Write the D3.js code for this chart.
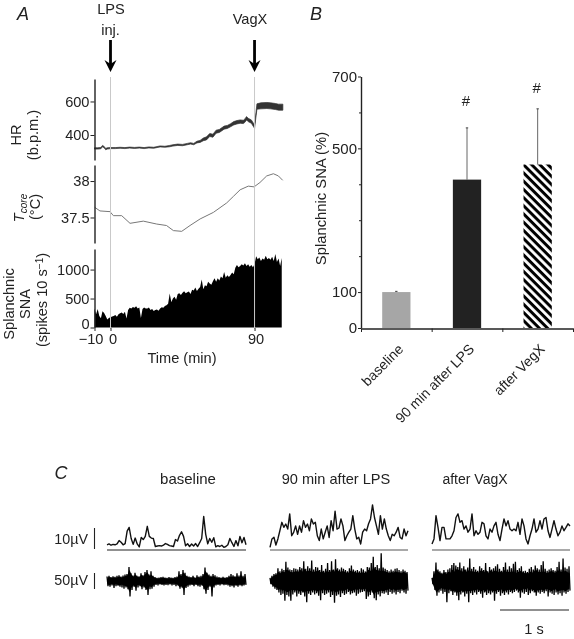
<!DOCTYPE html>
<html><head><meta charset="utf-8">
<script src="https://cdn.jsdelivr.net/npm/d3@7"></script>
<style>
html,body{margin:0;padding:0;background:#fff}
svg{display:block;filter:blur(0.4px)}
text{font-family:"Liberation Sans",Arial,sans-serif;fill:#222}
</style></head><body><svg id="c" width="574" height="639"></svg>
<script>
// Panel A: heart rate (time in min, b.p.m., band half-width)
const hrTime=[-10,-8,-6,-5,-4,-3,-2,0,3,6,9,12,15,18,21,24,27,31,34,37,39,42,45,48,50,52,54,56,58,60,62,64,66,68,71,73,75,77,79,81,83,84,85,86,88,90,90.4,91,91.5,94,97.7,100,103,105,107.7];
const hrValue=[320,320,322,334,328,316,320,322,322,324,322,325,323,325,322,326,324,332,330,334,338,342,340,346,350,346,358,362,374,380,400,396,420,424,444,448,458,470,476,480,478,486,500,490,480,450,480,530,570,574,576,574,570,566,566];
const hrSpread=[4,4,4,4,4,4,4,3,3,3,3,3,3,3,3,3,3,3,3,4,4,4,4,4,4,4,5,6,8,9,9,9,9,9,9,9,9,10,10,10,10,10,10,10,10,10,10,14,16,18,18,18,18,18,18];
// Panel A: core temperature
const tempTime=[-9.9,-6.6,-0.3,1.8,7,12.2,20.5,28.9,35,39.3,44.5,49.7,56,64.3,72.6,76.8,81,86.1,89.7,93.4,97.6,101.8,104.9,107.6];
const tempValue=[37.64,37.59,37.58,37.525,37.525,37.42,37.45,37.41,37.39,37.32,37.31,37.39,37.48,37.57,37.70,37.79,37.88,37.93,37.92,37.98,38.07,38.10,38.07,38.01];
// Panel A: splanchnic SNA, one value per minute from -10
const snaStart=-10;
const snaValue=[330,230,320,200,160,280,250,200,140,165,175,190,200,215,185,230,245,260,235,270,155,300,340,330,356,340,365,330,345,165,320,345,330,330,345,300,320,285,300,310,290,330,350,340,370,385,410,586,440,500,530,480,580,590,560,600,625,590,610,620,580,650,640,690,630,670,700,828,660,730,710,790,760,740,800,850,790,850,810,880,850,960,860,900,870,905,950,920,1030,1080,1040,1060,1090,1070,1110,1060,1090,1050,1080,1040,1090,1230,1180,1210,1150,1190,1170,1240,1180,1200,1170,1220,1150,1270,1130,1190,1060,1200];
const hrTicks=[400,600], tempTicks=[37.5,38], snaTicks=[0,500,1000], timeTicks=[-10,0,90];
const eventTimes=[0,90];
// Panel B
const barCategories=["baseline","90 min after LPS","after VegX"];
const barMeans=[100,413,455];
const barTops=[102,557,610];
const barMarks=["","#","#"];
const barTickMajor=[0,100,500,700], barTickMinor=[200,300,400,600];
// Panel C
const traceTitles=["baseline","90 min after LPS","after VagX"];
const rectBaseline=[2,2.4,1.8,2.2,2,2.4,4,3.2,2,2.6,8.5,10.3,5,2.2,5.2,2.4,1,5.5,4.5,6,10.8,6,5.2,5,1.2,1.4,1.6,1.4,1.8,2.6,2.2,1.6,1.4,1.2,4.5,3.8,6.5,8.2,6,1.5,2.5,1.2,2.4,1.4,2.6,1.2,3,5,15.5,7,2.5,5,3.2,5.4,1,1.6,1.2,1.8,0.8,1.2,2,5,3,1.2,4,1.5,6,3,5.5,2];
const rectLPS=[0.8,4.8,5.6,1.9,4.8,8.7,12.7,10.3,11.9,9.5,16.7,6.3,7.9,11,7,11,8,13.5,10.3,11.9,8.7,14.3,11.9,12.7,6.3,4,9.5,4.8,8,11,5.5,13.5,8.7,18,9.5,10,14.3,11,4,6.3,8,9.5,15.9,9.5,4.8,5.6,2.4,8,9.5,8.7,12,14.3,21,15,11,7,15.9,9.5,14.3,9.5,6.3,4,7,6.3,8,10.3,5.5,4.8,9.5,6.3,8.7];
const rectVagX=[2.4,4.8,15.9,10.3,4,10.3,10.3,4.8,4.8,4.8,6.3,8.7,15,16.7,12.7,13.5,9.5,11,8,9.5,16.7,6.3,8.7,7,8,12.7,12,6.3,4.8,9.5,8,11,12.7,7,4,9.5,14.3,11,13.5,9.5,8.7,9.5,8.7,12.7,7,14.3,11,4.8,2.4,6.3,9.5,14.3,8,9.5,13.5,9.5,14.3,15,8.7,5.5,9.5,13.5,9.5,6.3,8,11,8.7,10.3,12,11];
const rawUpBaseline=[14,16,12,15,13,16,18,14,17,20,22,44,24,17,26,16,15,24,18,28,34,20,30,16,12,10,11,12,13,11,10,12,11,10,12,14,30,22,34,26,16,14,12,16,11,18,14,16,22,42,26,20,16,22,18,14,12,11,13,11,12,16,22,18,15,24,17,30,16,22];
const rawLowBaseline=[16,18,14,22,16,15,18,20,24,20,26,48,28,18,30,20,16,26,20,28,44,26,24,18,12,14,11,12,14,12,13,11,14,12,16,14,24,20,44,22,18,14,12,16,12,16,18,14,26,40,28,18,48,20,14,12,14,11,13,12,14,18,16,20,15,18,14,16,14,12];
const rawUpLPS=[10,16,22,24,40,30,38,34,60,42,36,34,40,38,36,44,40,62,38,46,40,64,36,44,42,34,50,32,38,56,34,62,36,68,40,36,42,38,34,30,40,48,36,32,34,30,40,36,30,44,42,56,76,44,50,40,87,42,38,34,30,36,32,38,40,34,30,36,32,28];
const rawLowLPS=[10,18,24,28,36,44,40,62,44,48,62,42,36,48,40,44,36,48,66,40,44,36,42,38,46,60,38,44,40,36,50,44,68,46,42,50,38,44,40,34,42,38,36,46,40,36,34,32,56,48,44,36,54,60,42,48,38,40,36,44,34,40,36,42,34,38,30,36,40,30];
const rawUpVagX=[10,30,58,36,30,26,34,28,36,40,50,56,48,44,58,40,46,36,42,70,38,44,36,32,46,40,34,56,30,44,36,40,46,52,38,32,44,58,36,46,40,54,60,34,40,46,30,32,28,38,44,36,48,40,36,50,62,38,32,36,40,34,32,44,60,36,70,42,38,46];
const rawLowVagX=[10,28,46,36,30,40,34,66,38,32,44,36,46,60,42,36,48,40,66,38,44,36,42,34,40,52,36,44,38,42,36,62,40,34,46,38,44,36,42,34,38,34,30,36,52,36,40,34,44,38,32,36,46,36,40,34,38,32,48,36,40,44,36,42,38,46,36,40,34,30];

const svg=d3.select("#c");
const ink="#222";
function label(x,y,s,o={}){
  const t=svg.append("text").attr("x",x).attr("y",y).attr("font-size",o.size||14.6)
   .attr("text-anchor",o.anchor||"middle").text(s);
  if(o.italic)t.attr("font-style","italic");
  if(o.rot!=null)t.attr("transform",`rotate(${o.rot} ${x} ${y})`);
  return t;
}
function styleAxis(g,size=14.6){
  g.selectAll("path.domain").attr("stroke",ink).attr("stroke-width",1.4);
  g.selectAll(".tick line").attr("stroke",ink).attr("stroke-width",1);
  g.selectAll("text").attr("font-size",size).attr("font-family",'"Liberation Sans",Arial,sans-serif').attr("fill",ink);
}
/* ---------- Panel A ---------- */
label(23,20,"A",{size:18,italic:true});
const tx=d3.scaleLinear().domain([-10,107.6]).range([94.5,282.7]);
const hrY=d3.scaleLinear().domain([251,734]).range([160,79]);
const tY=d3.scaleLinear().domain([37.15,38.22]).range([243,165]);
const sY=d3.scaleLinear().domain([0,1355]).range([327.5,249]);
const snaSeries=snaValue.map((v,i)=>[snaStart+i,v]);
svg.append("path").datum(snaSeries).attr("fill","#000")
  .attr("d",d3.area().x(d=>tx(d[0])).y0(sY(0)).y1(d=>sY(d[1])));
svg.append("path").datum(hrTime.map((t,i)=>[t,hrValue[i],hrSpread[i]])).attr("fill","#333").attr("stroke","#333").attr("stroke-width",.7)
  .attr("d",d3.area().x(d=>tx(d[0])).y0(d=>hrY(d[1]-d[2])).y1(d=>hrY(d[1]+d[2])));
svg.append("path").datum(tempTime.map((t,i)=>[t,tempValue[i]])).attr("fill","none").attr("stroke","#777").attr("stroke-width",1)
  .attr("d",d3.line().x(d=>tx(d[0])).y(d=>tY(d[1])));
svg.selectAll("line.ev").data(eventTimes).join("line").attr("class","ev")
  .attr("x1",tx).attr("x2",tx).attr("y1",77).attr("y2",329).attr("stroke","#c9c9c9").attr("stroke-width",1);
const axL=(sc,vals,fmt)=>svg.append("g").attr("transform","translate(94.5,0)")
  .call(d3.axisLeft(sc).tickValues(vals).tickFormat(fmt).tickSize(4).tickSizeOuter(0).tickPadding(1)).call(styleAxis);
axL(hrY,hrTicks,d3.format("d"));
axL(tY,tempTicks,d=>String(d));
const snaAxis=axL(sY,snaTicks,d3.format("d"));
snaAxis.selectAll(".tick").filter(d=>d===0).select("text").attr("y",-3.5);
const axX=svg.append("g").attr("transform","translate(0,328)")
  .call(d3.axisBottom(tx).tickValues(timeTicks).tickFormat(d=>d<0?"\u2212"+(-d):d).tickSize(3).tickSizeOuter(0).tickPadding(3));
styleAxis(axX); axX.select("path.domain").remove();
axX.selectAll(".tick text").attr("dx",d=>d<0?-4:(d===0?2:1));
label(182,363,"Time (min)");
label(111,14,"LPS");label(110.5,35,"inj.");label(250,24,"VagX");
eventTimes.forEach(t=>{
  const x=tx(t);
  svg.append("line").attr("x1",x).attr("x2",x).attr("y1",40).attr("y2",64).attr("stroke","#000").attr("stroke-width",2.8);
  svg.append("path").attr("d",d3.line()([[x-6,60],[x,72],[x+6,60],[x,64]])+"Z").attr("fill","#000");
});
label(21,135,"HR",{rot:-90});label(38,135,"(b.p.m.)",{rot:-90});
const tc=label(24,208,"",{rot:-90});
tc.append("tspan").attr("font-style","italic").text("T");
tc.append("tspan").attr("font-style","italic").attr("font-size",10).attr("dy",3).text("core");
label(40,207,"(°C)",{rot:-90});
label(14,304,"Splanchnic",{rot:-90});label(30,304,"SNA",{rot:-90});
const sp=label(47,300,"(spikes 10 s",{rot:-90});
sp.append("tspan").attr("font-size",10).attr("dy",-4).text("\u22121");
sp.append("tspan").attr("dy",4).text(")");
/* ---------- Panel B ---------- */
label(316,20,"B",{size:18,italic:true});
const defs=svg.append("defs");
const pat=defs.append("pattern").attr("id","hatch").attr("patternUnits","userSpaceOnUse")
  .attr("width",5.8).attr("height",5.8).attr("patternTransform","rotate(45)");
pat.append("rect").attr("width",5.8).attr("height",5.8).attr("fill","#fff");
pat.append("rect").attr("width",5.8).attr("height",3).attr("fill","#000");
const bx=d3.scaleBand().domain(barCategories).range([361,573]).paddingInner(0.6).paddingOuter(0.3);
const by=d3.scaleLinear().domain([0,700]).range([328,76.5]);
const fills=["#a6a6a6","#222222","url(#hatch)"];
const barCx=d=>bx(d)+bx.bandwidth()/2;
svg.selectAll("line.err").data(barCategories).join("line").attr("class","err")
  .attr("x1",barCx).attr("x2",barCx).attr("y1",(d,i)=>by(barMeans[i])).attr("y2",(d,i)=>by(barTops[i]))
  .attr("stroke","#666").attr("stroke-width",1);
svg.selectAll("line.cap").data(barCategories).join("line").attr("class","cap")
  .attr("x1",d=>barCx(d)-1.2).attr("x2",d=>barCx(d)+1.2).attr("y1",(d,i)=>by(barTops[i])).attr("y2",(d,i)=>by(barTops[i]))
  .attr("stroke","#444").attr("stroke-width",1);
svg.selectAll("rect.bar").data(barCategories).join("rect").attr("class","bar")
  .attr("x",d=>bx(d)).attr("width",bx.bandwidth()).attr("y",(d,i)=>by(barMeans[i]))
  .attr("height",(d,i)=>by(0)-by(barMeans[i])).attr("fill",(d,i)=>fills[i]);
barCategories.forEach((c,i)=>{ if(barMarks[i]) label(barCx(c)-1,by(barTops[i])-(i==1?22:16),barMarks[i],{size:15}); });
const byAxis=svg.append("g").attr("transform","translate(361,0)")
  .call(d3.axisLeft(by).tickValues(barTickMajor).tickFormat(d3.format("d")).tickSize(3).tickSizeOuter(0).tickPadding(1));
styleAxis(byAxis,15);
svg.append("g").attr("transform","translate(361,0)")
  .call(d3.axisLeft(by).tickValues(barTickMinor).tickFormat("").tickSize(2).tickSizeOuter(0)).call(styleAxis).select("path.domain").remove();
const xb=d3.scalePoint().domain([0,1,2,3]).range([361,573]);
svg.append("g").attr("transform","translate(0,328.5)")
  .call(d3.axisBottom(xb).tickFormat("").tickSize(3.5).tickSizeOuter(0)).call(styleAxis);
barCategories.forEach(c=>{
  label(barCx(c)+8,350,c,{anchor:"end",rot:-45,size:14});
});
label(326,198.5,"Splanchnic SNA (%)",{rot:-90,size:14.8});
/* ---------- Panel C ---------- */
label(61,479,"C",{size:18,italic:true});
const panels=[
 {title:traceTitles[0],rect:rectBaseline,up:rawUpBaseline,low:rawLowBaseline,x:[107,246],tc:188,size:15},
 {title:traceTitles[1],rect:rectLPS,up:rawUpLPS,low:rawLowLPS,x:[270,408],tc:336,size:14.6},
 {title:traceTitles[2],rect:rectVagX,up:rawUpVagX,low:rawLowVagX,x:[432,570],tc:475,size:14}];
const rY=d3.scaleLinear().domain([0,10]).range([549,528]);
const wY=d3.scaleLinear().domain([-50,50]).range([597,565]);
panels.forEach(p=>{
  label(p.tc,484,p.title,{size:p.size});
  const x1=d3.scaleLinear().domain([0,p.rect.length-1]).range(p.x);
  const n=Math.min(p.up.length,p.low.length);
  const x2=d3.scaleLinear().domain([0,n-0.5]).range(p.x);
  svg.append("line").attr("x1",p.x[0]).attr("x2",p.x[1]).attr("y1",550).attr("y2",550).attr("stroke",p===panels[0]?"#222":"#555").attr("stroke-width",1.2);
  svg.append("path").datum(p.rect).attr("fill","none").attr("stroke","#111").attr("stroke-width",1.4)
    .attr("stroke-linejoin","round").attr("d",d3.line().x((d,i)=>x1(i)).y(d=>rY(d)));
  // dense core of the raw signal, with the individual spikes zig-zagging beyond it
  const core=d3.range(n).map(i=>[x2(i+0.25),Math.min(p.up[i],p.low[i])]);
  svg.append("path").datum(core).attr("fill","#000")
    .attr("d",d3.area().x(d=>d[0]).y0(d=>wY(-d[1]*0.8)).y1(d=>wY(d[1]*0.8)));
  const pts=[];
  for(let i=0;i<n;i++){pts.push([x2(i),wY(p.up[i])]);pts.push([x2(i+0.5),wY(-p.low[i])]);}
  svg.append("path").attr("d",d3.line()(pts)).attr("fill","none").attr("stroke","#000").attr("stroke-width",1.3);
});
label(88,544,"10µV",{anchor:"end",size:14.3});
label(88,585,"50µV",{anchor:"end",size:14.3});
svg.append("line").attr("x1",94.5).attr("x2",94.5).attr("y1",rY(10)).attr("y2",rY(0)).attr("stroke",ink).attr("stroke-width",1.1);
svg.append("line").attr("x1",94.5).attr("x2",94.5).attr("y1",wY(25)).attr("y2",wY(-25)).attr("stroke",ink).attr("stroke-width",1.1);
svg.append("line").attr("x1",500).attr("x2",569).attr("y1",610).attr("y2",610).attr("stroke",ink).attr("stroke-width",1);
label(534,634,"1 s",{size:14.5});
</script></body></html>
